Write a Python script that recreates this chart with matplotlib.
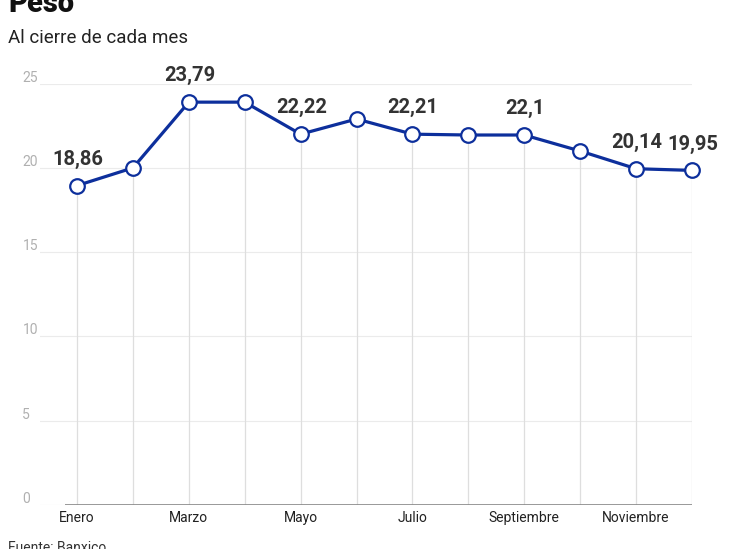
import matplotlib
matplotlib.use("Agg")
import matplotlib.pyplot as plt

plt.rcParams['font.family'] = ['Roboto', 'DejaVu Sans']

# plotted positions, plus the value labels shown
meses = ["Enero", "Febrero", "Marzo", "Abril", "Mayo", "Junio", "Julio",
         "Agosto", "Septiembre", "Octubre", "Noviembre", "Diciembre"]
valores = [18.95, 20.0, 23.9, 23.9, 22.0, 22.9, 22.0, 21.95, 21.95, 21.0, 19.95, 19.85]
etiquetas = ["18,86", None, "23,79", None, "22,22", None, "22,21", None, "22,1", None, "20,14", "19,95"]
yticks = [0, 5, 10, 15, 20, 25]

azul = '#0d2f9c'
x = list(range(len(meses)))

fig = plt.figure(figsize=(7.32, 5.49), dpi=100)
ax = fig.add_axes([40 / 732, 44 / 549, 652 / 732, 421.4 / 549])
ax.set_xlim(-0.662, 11.0)
ax.set_ylim(0, 25)
ax.axis('off')

# horizontal gridlines + labels
for t in yticks:
    ax.axhline(t, color='#ebebeb', lw=0.8, zorder=0)
    ax.annotate(str(t), xy=(-0.027, t), xycoords=ax.get_yaxis_transform(),
                xytext=(0, 1.5), textcoords='offset points',
                ha='left', va='baseline', fontsize=10, color='#b0b0b0')

# baseline
ax.plot([-0.215, 11.0], [0, 0], color='#888888', lw=1.2, zorder=1, solid_capstyle='butt')

# vertical drop lines
ax.vlines(x, 0, valores, color='#dedede', lw=0.9, zorder=0.5)

ax.plot(x, valores, color=azul, lw=2.3, marker='o', markersize=10.5,
        markerfacecolor='white', markeredgecolor=azul, markeredgewidth=1.6,
        zorder=3, clip_on=False)

for xi, v, lab in zip(x, valores, etiquetas):
    if lab:
        ax.annotate(lab, xy=(xi, v), xytext=(0.5, 19), textcoords='offset points',
                    ha='center', va='center', fontsize=14.5, fontweight='bold',
                    color='#333333', annotation_clip=False)

for xi in x[::2]:
    ax.annotate(meses[xi], xy=(xi, 0), xytext=(0, -9.5), textcoords='offset points',
                ha='center', va='center', fontsize=10, color='#222222',
                annotation_clip=False)

fig.text(8 / 732, 1 - 12.5 / 549, "Peso", fontsize=21, fontweight='black',
         ha='left', va='baseline', color='#111111')
fig.text(8 / 732, 1 - 43 / 549, "Al cierre de cada mes", fontsize=13.5,
         ha='left', va='baseline', color='#222222')
fig.text(8 / 732, -3 / 549, "Fuente: Banxico", fontsize=10,
         ha='left', va='baseline', color='#333333')

fig.savefig("out.png", dpi=100)
